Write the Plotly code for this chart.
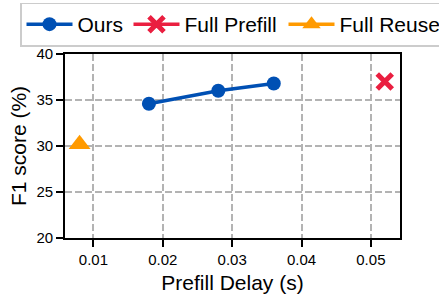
import plotly.graph_objects as go

ours_x = [0.018, 0.028, 0.036]
ours_y = [34.6, 36.0, 36.8]
prefill_x = [0.052]
prefill_y = [37.0]
reuse_x = [0.008]
reuse_y = [30.2]

x_ticks = [0.01, 0.02, 0.03, 0.04, 0.05]
y_ticks = [20, 25, 30, 35, 40]

fig = go.Figure()
fig.add_trace(go.Scatter(x=ours_x, y=ours_y, mode="lines+markers", name="Ours",
                         legendwidth=46,
                         line=dict(color="#0050b4", width=3.5),
                         marker=dict(symbol="circle", size=14, color="#0050b4")))
fig.add_trace(go.Scatter(x=prefill_x, y=prefill_y, mode="lines+markers", name="Full Prefill",
                         legendwidth=94,
                         line=dict(color="#ea1f40", width=3.5),
                         marker=dict(symbol="x-thin", size=15, color="#ea1f40",
                                     line=dict(width=5, color="#ea1f40"))))
fig.add_trace(go.Scatter(x=reuse_x, y=reuse_y, mode="lines+markers", name="Full Reuse",
                         line=dict(color="#ff9a00", width=3.5),
                         marker=dict(symbol="triangle-up", size=19, color="#ff9a00")))

axis_common = dict(showline=True, linecolor="black", linewidth=1.8, mirror=True,
                   ticks="outside", ticklen=7, tickwidth=1.8, tickcolor="black",
                   showgrid=True, gridcolor="#b3b3b3", griddash="7px,3px", gridwidth=1.5,
                   zeroline=False, tickfont=dict(size=15, color="black"))

plot_w = 335
full_w = 374

fig.update_layout(
    width=439, height=303,
    margin=dict(l=65, r=0, t=54, b=65, autoexpand=False),
    paper_bgcolor="white", plot_bgcolor="white",
    font=dict(family="Liberation Sans, Arial, sans-serif", color="black"),
    xaxis=dict(domain=[0, plot_w / full_w], range=[0.0059, 0.0542], tickvals=x_ticks,
               ticktext=[f"{v:.2f}" for v in x_ticks],
               title=dict(text="Prefill Delay (s)", font=dict(size=21), standoff=8),
               **axis_common),
    yaxis=dict(range=[20, 40], tickvals=y_ticks,
               title=dict(text="F1 score (%)", font=dict(size=21), standoff=4),
               **axis_common),
    legend=dict(orientation="h", x=(20 - 65) / full_w, y=1 + (54 - 2.5) / 184,
                xanchor="left", yanchor="top",
                bordercolor="#cccccc", borderwidth=1.5, bgcolor="white",
                font=dict(size=21), itemwidth=46, tracegroupgap=0),
    showlegend=True,
)

fig.write_html("out.html", config={"displayModeBar": False},
               post_script="document.body.style.margin='0';")
